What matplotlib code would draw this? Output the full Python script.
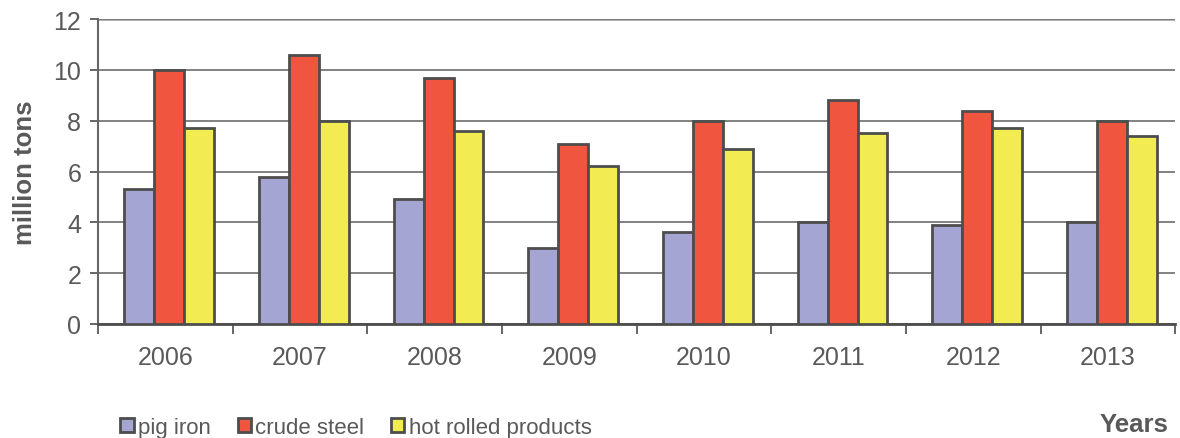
import numpy as np
import matplotlib.pyplot as plt

plt.rcParams['font.family'] = ['Liberation Sans', 'DejaVu Sans']

# Production per year, million tons
years = ['2006', '2007', '2008', '2009', '2010', '2011', '2012', '2013']
pig_iron = [5.3, 5.8, 4.9, 3.0, 3.6, 4.0, 3.9, 4.0]
crude_steel = [10.0, 10.6, 9.7, 7.1, 8.0, 8.8, 8.4, 8.0]
hot_rolled = [7.7, 8.0, 7.6, 6.2, 6.9, 7.5, 7.7, 7.4]

series = [
    ('pig iron', pig_iron, '#A4A5D2'),
    ('crude steel', crude_steel, '#F05540'),
    ('hot rolled products', hot_rolled, '#F2EC52'),
]

text_col = '#595959'
edge_col = '#4D4D4D'

fig = plt.figure(figsize=(11.8, 4.39), dpi=100)
ax = fig.add_axes([0.083, 0.26, 0.913, 0.694])

x = np.arange(len(years))
w = 0.222
for i, (name, vals, col) in enumerate(series):
    ax.bar(x + (i - 1) * w + 0.03, vals, width=w, color=col,
           edgecolor=edge_col, linewidth=2, label=name, zorder=3)

ax.set_xlim(-0.5, len(years) - 0.5)
ax.set_ylim(0, 12)
ax.set_yticks(range(0, 13, 2))
ax.yaxis.grid(True, color='#777777', linewidth=1.3, zorder=0)
ax.axhline(12, color='#AAAAAA', linewidth=2, zorder=1)

ax.set_xticks(x)
ax.set_xticklabels(years)
ax.set_xticks(np.arange(-0.5, len(years)), minor=True)
ax.tick_params(axis='x', which='major', length=0, pad=15,
               labelsize=18, labelcolor=text_col)
ax.tick_params(axis='x', which='minor', length=7, width=1.2, color=edge_col)
ax.tick_params(axis='y', length=6, width=1.2, color=edge_col,
               labelsize=18, labelcolor=text_col, pad=6)

for side in ('top', 'right'):
    ax.spines[side].set_visible(False)
ax.spines['left'].set_color('#666666')
ax.spines['left'].set_linewidth(1.5)
ax.spines['bottom'].set_color(edge_col)
ax.spines['bottom'].set_linewidth(2)

ax.set_ylabel('million tons', fontsize=18.5, fontweight='bold',
              color=text_col, labelpad=12)
fig.text(0.99, 0.005, 'Years', fontsize=18.5, fontweight='bold',
         color=text_col, ha='right', va='bottom')

fig.legend(loc='lower left', bbox_to_anchor=(0.085, -0.045), ncol=3,
           frameon=False, fontsize=16, labelcolor=text_col,
           handlelength=0.6, handleheight=0.6, handletextpad=0.2,
           columnspacing=1.2)

fig.savefig('out.png', dpi=100)
